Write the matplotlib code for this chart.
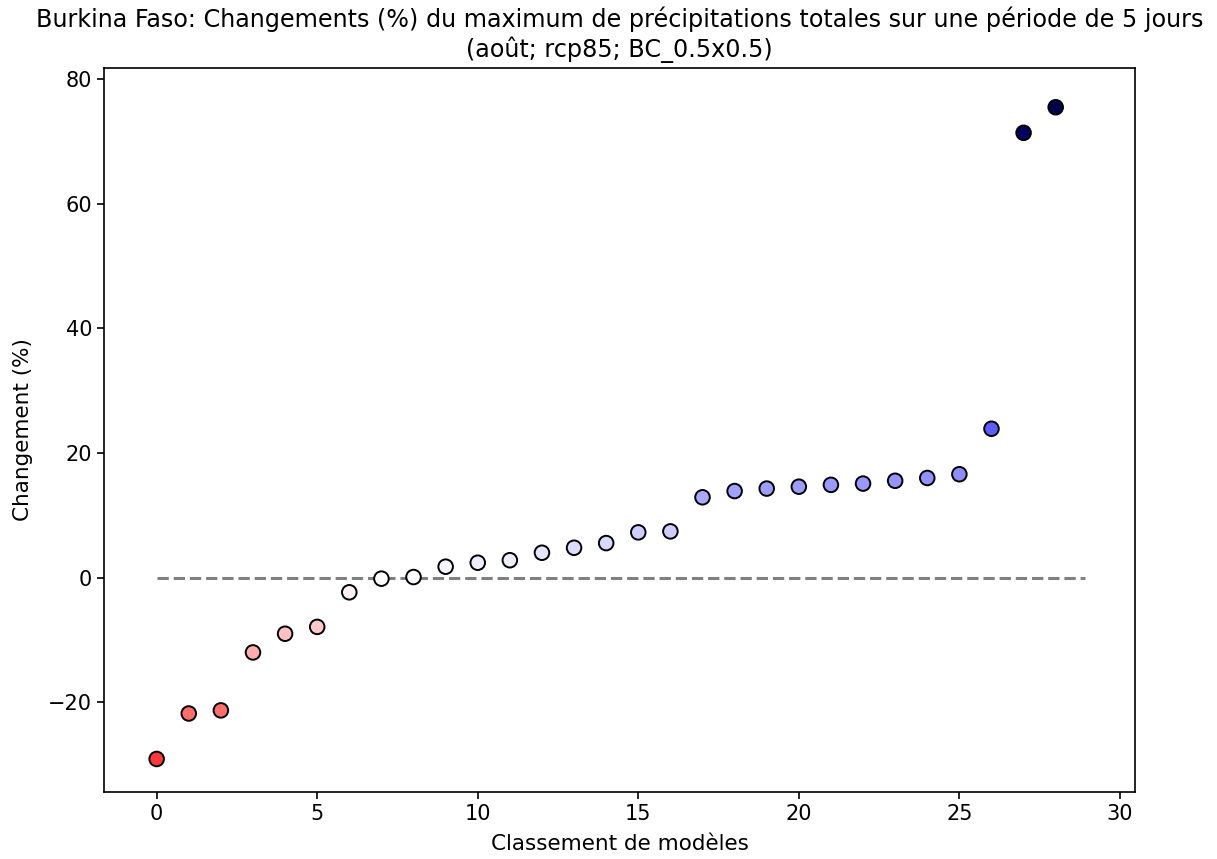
import numpy as np
import matplotlib
matplotlib.use("Agg")
import matplotlib.pyplot as plt
from matplotlib.colors import Normalize

# model ranking and change (%)
rank = np.arange(29)
change = [-29.1, -21.8, -21.3, -12.0, -9.0, -7.9, -2.35, -0.16, 0.1, 1.76,
          2.4, 2.8, 4.0, 4.8, 5.55, 7.27, 7.43, 12.9, 13.9, 14.3,
          14.6, 14.9, 15.1, 15.55, 16.0, 16.6, 23.9, 71.4, 75.5]

title = ("Burkina Faso: Changements (%) du maximum de précipitations totales sur une période de 5 jours\n"
         "(août; rcp85; BC_0.5x0.5)")

plt.rcParams['font.family'] = 'DejaVu Sans'
plt.rcParams['font.size'] = 15

fig = plt.figure(figsize=(12.17, 8.59), dpi=100)
ax = fig.add_axes([104/1217, 1-792/859, (1135-104)/1217, (792-68)/859])

vmax = np.max(np.abs(change))
norm = Normalize(vmin=-vmax, vmax=vmax)
ax.hlines(0, 0, 28.9, colors='grey', linestyles='--', linewidth=2.2, zorder=1)
ax.scatter(rank, change, c=change, cmap='seismic_r', norm=norm, s=110,
           edgecolors='black', linewidths=1.4, zorder=2)

ax.set_xlim(-1.64, 30.47)
ax.set_ylim(-34.4, 81.8)
ax.set_xticks([0, 5, 10, 15, 20, 25, 30])
ax.set_yticks([-20, 0, 20, 40, 60, 80])
ax.set_yticklabels(['\u221220', '0', '20', '40', '60', '80'])
ax.tick_params(labelsize=15, length=5, width=1.2)
for s in ax.spines.values():
    s.set_linewidth(1.2)
ax.set_title(title, fontsize=17.2, pad=8)
ax.set_xlabel("Classement de modèles", fontsize=15.5, labelpad=7)
ax.set_ylabel("Changement (%)", fontsize=15.5, labelpad=11)

fig.savefig("out.png", dpi=100)
